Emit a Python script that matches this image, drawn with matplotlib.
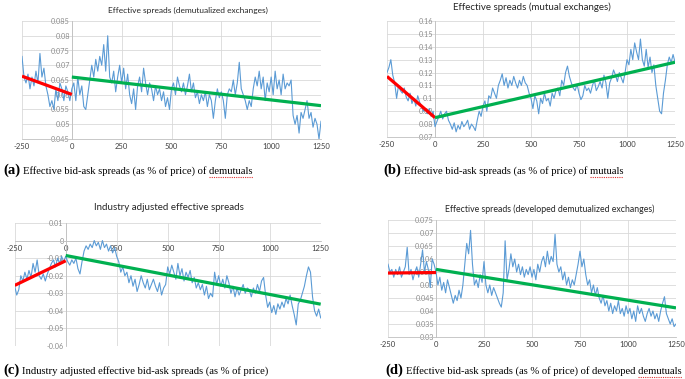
import matplotlib
matplotlib.use("Agg")
import matplotlib.pyplot as plt
import numpy as np
from matplotlib.lines import Line2D

W, H = 685, 379

# ---------------- data ----------------
event_days = np.arange(-250, 1251, 10)
x_ticks = [-250, 0, 250, 500, 750, 1000, 1250]
x_tick_labels = ["-250", "0", "250", "500", "750", "1000", "1250"]
fit_pre_days = [-250, 0]
fit_post_days = [0, 1250]

spread_demut = [
    0.073, 0.066, 0.064, 0.067, 0.062, 0.066, 0.063, 0.068, 0.064, 0.074,
    0.066, 0.069, 0.063, 0.060, 0.056, 0.058, 0.055, 0.062, 0.058, 0.064,
    0.062, 0.058, 0.063, 0.061, 0.058, 0.062, 0.064, 0.058, 0.066, 0.060,
    0.063, 0.056, 0.055, 0.060, 0.065, 0.070, 0.066, 0.072, 0.068, 0.073,
    0.070, 0.077, 0.068, 0.080, 0.066, 0.064, 0.068, 0.061, 0.066, 0.070,
    0.064, 0.069, 0.062, 0.067, 0.060, 0.057, 0.062, 0.055, 0.063, 0.066,
    0.061, 0.069, 0.064, 0.060, 0.064, 0.062, 0.058, 0.063, 0.060, 0.062,
    0.058, 0.061, 0.056, 0.059, 0.055, 0.062, 0.064, 0.060, 0.066, 0.063,
    0.061, 0.064, 0.060, 0.063, 0.067, 0.061, 0.064, 0.059, 0.061, 0.057,
    0.060, 0.058, 0.061, 0.056, 0.060, 0.058, 0.052, 0.058, 0.062, 0.059,
    0.061, 0.058, 0.052, 0.060, 0.062, 0.061, 0.065, 0.060, 0.064, 0.071,
    0.062, 0.060, 0.058, 0.055, 0.058, 0.056, 0.062, 0.066, 0.063, 0.068,
    0.062, 0.066, 0.058, 0.064, 0.061, 0.066, 0.060, 0.068, 0.062, 0.065,
    0.060, 0.067, 0.062, 0.064, 0.063, 0.065, 0.053, 0.050, 0.053, 0.047,
    0.054, 0.052, 0.055, 0.058, 0.052, 0.054, 0.049, 0.052, 0.050, 0.045,
    0.051,
]
pre_fit_demut = [0.0663, 0.0601]
post_fit_demut = [0.0660, 0.0563]

spread_mutual = [
    0.120, 0.124, 0.130, 0.118, 0.112, 0.100, 0.110, 0.106, 0.104, 0.108,
    0.101, 0.098, 0.104, 0.096, 0.100, 0.094, 0.102, 0.097, 0.094, 0.090,
    0.092, 0.088, 0.092, 0.086, 0.090, 0.078, 0.082, 0.086, 0.090, 0.084,
    0.088, 0.090, 0.083, 0.080, 0.076, 0.081, 0.074, 0.079, 0.076, 0.082,
    0.078, 0.080, 0.083, 0.076, 0.080, 0.078, 0.075, 0.083, 0.090, 0.086,
    0.094, 0.098, 0.090, 0.102, 0.100, 0.108, 0.104, 0.100, 0.110, 0.114,
    0.119, 0.110, 0.116, 0.108, 0.114, 0.110, 0.117, 0.112, 0.108, 0.114,
    0.110, 0.117, 0.112, 0.110, 0.104, 0.100, 0.092, 0.102, 0.098, 0.088,
    0.100, 0.096, 0.104, 0.098, 0.100, 0.094, 0.104, 0.100, 0.106, 0.108,
    0.102, 0.114, 0.110, 0.120, 0.125, 0.117, 0.112, 0.108, 0.106, 0.111,
    0.104, 0.099, 0.102, 0.110, 0.106, 0.108, 0.104, 0.110, 0.114, 0.106,
    0.109, 0.113, 0.108, 0.118, 0.112, 0.100, 0.112, 0.116, 0.122, 0.118,
    0.113, 0.120, 0.116, 0.112, 0.120, 0.130, 0.126, 0.138, 0.130, 0.143,
    0.136, 0.130, 0.146, 0.130, 0.125, 0.138, 0.124, 0.132, 0.120, 0.126,
    0.110, 0.100, 0.090, 0.088, 0.104, 0.114, 0.126, 0.132, 0.128, 0.134,
    0.128,
]
pre_fit_mutual = [0.117, 0.085]
post_fit_mutual = [0.085, 0.128]

spread_industry_adj = [
    -0.026, -0.031, -0.028, -0.020, -0.023, -0.018, -0.022, -0.017, -0.021, -0.013,
    -0.018, -0.011, -0.020, -0.022, -0.019, -0.023, -0.019, -0.016, -0.013, -0.011,
    -0.015, -0.010, -0.013, -0.009, -0.012, -0.009, -0.012, -0.014, -0.011, -0.013,
    -0.010, -0.016, -0.019, -0.012, -0.006, -0.003, -0.005, -0.002, -0.004, 0.000,
    -0.003, -0.001, -0.005, 0.000, -0.004, -0.002, -0.006, -0.003, -0.007, -0.004,
    -0.009, -0.012, -0.018, -0.015, -0.020, -0.018, -0.024, -0.020, -0.026, -0.022,
    -0.029, -0.025, -0.020, -0.024, -0.027, -0.022, -0.028, -0.025, -0.022, -0.026,
    -0.029, -0.024, -0.031, -0.027, -0.025, -0.015, -0.019, -0.014, -0.018, -0.022,
    -0.013, -0.020, -0.016, -0.023, -0.018, -0.021, -0.017, -0.024, -0.021, -0.027,
    -0.024, -0.028, -0.025, -0.031, -0.026, -0.033, -0.030, -0.032, -0.018, -0.025,
    -0.020, -0.026, -0.022, -0.027, -0.020, -0.024, -0.030, -0.026, -0.032, -0.027,
    -0.031, -0.028, -0.025, -0.030, -0.027, -0.028, -0.032, -0.027, -0.030, -0.025,
    -0.029, -0.023, -0.021, -0.031, -0.038, -0.035, -0.041, -0.037, -0.042, -0.036,
    -0.039, -0.035, -0.038, -0.033, -0.036, -0.031, -0.037, -0.042, -0.048, -0.036,
    -0.034, -0.030, -0.026, -0.020, -0.015, -0.018, -0.032, -0.040, -0.043, -0.039,
    -0.044,
]
pre_fit_industry_adj = [-0.0255, -0.0115]
post_fit_industry_adj = [-0.0085, -0.0362]

spread_developed = [
    0.058, 0.055, 0.056, 0.053, 0.056, 0.054, 0.057, 0.053, 0.055, 0.057,
    0.0645, 0.054, 0.056, 0.052, 0.055, 0.057, 0.053, 0.058, 0.0635, 0.055,
    0.059, 0.056, 0.049, 0.060, 0.058, 0.055, 0.050, 0.053, 0.048, 0.051,
    0.047, 0.052, 0.049, 0.046, 0.043, 0.046, 0.044, 0.048, 0.045, 0.050,
    0.058, 0.066, 0.062, 0.071, 0.058, 0.050, 0.052, 0.049, 0.054, 0.051,
    0.059, 0.050, 0.047, 0.050, 0.046, 0.049, 0.047, 0.045, 0.043, 0.0415,
    0.047, 0.067, 0.052, 0.056, 0.062, 0.057, 0.060, 0.055, 0.058, 0.054,
    0.057, 0.053, 0.056, 0.054, 0.057, 0.053, 0.056, 0.052, 0.058, 0.055,
    0.059, 0.061, 0.057, 0.063, 0.058, 0.061, 0.059, 0.0695, 0.058, 0.055,
    0.057, 0.052, 0.055, 0.050, 0.053, 0.049, 0.052, 0.050, 0.054, 0.058,
    0.063, 0.057, 0.060, 0.054, 0.050, 0.052, 0.047, 0.050, 0.046, 0.049,
    0.045, 0.043, 0.046, 0.042, 0.044, 0.040, 0.043, 0.039, 0.042, 0.040,
    0.044, 0.039, 0.041, 0.038, 0.042, 0.039, 0.041, 0.037, 0.040, 0.036,
    0.042, 0.039, 0.041, 0.038, 0.036, 0.039, 0.041, 0.038, 0.040, 0.037,
    0.039, 0.036, 0.040, 0.043, 0.0455, 0.039, 0.037, 0.035, 0.037, 0.034,
    0.035,
]
pre_fit_developed = [0.0546, 0.0548]
post_fit_developed = [0.0560, 0.0412]

yticks_demut = [0.045, 0.05, 0.055, 0.06, 0.065, 0.07, 0.075, 0.08, 0.085]
yticks_mutual = [0.07, 0.08, 0.09, 0.1, 0.11, 0.12, 0.13, 0.14, 0.15, 0.16]
yticks_industry_adj = [-0.06, -0.05, -0.04, -0.03, -0.02, -0.01, 0, 0.01]
yticks_developed = [0.03, 0.035, 0.04, 0.045, 0.05, 0.055, 0.06, 0.065, 0.07, 0.075]

titles = [
    "Effective spreads (demutualized exchanges)",
    "Effective spreads (mutual exchanges)",
    "Industry adjusted effective spreads",
    "Effective spreads (developed demutualized exchanges)",
]
caption_labels = ["(a)", "(b)", "(c)", "(d)"]
caption_texts = [
    "Effective bid-ask spreads (as % of price) of demutuals",
    "Effective bid-ask spreads (as % of price) of mutuals",
    "Industry adjusted effective bid-ask spreads (as % of price)",
    "Effective bid-ask spreads (as % of price) of developed demutuals",
]
caption_underlined = ["demutuals", "mutuals", None, "demutuals"]

# ---------------- drawing ----------------
fig = plt.figure(figsize=(W / 100, H / 100), dpi=100)
fig.patch.set_facecolor("white")

TITLE_FONT = ["Lato", "DejaVu Sans"]
SERIF = ["Liberation Serif", "DejaVu Serif"]


def px_rect(l, t, r, b):
    return [l / W, 1 - b / H, (r - l) / W, (b - t) / H]


def panel(rect, series, pre, post, yticks, title, title_c, title_size, xaxis_zero=False):
    ax = fig.add_axes(px_rect(*rect))
    ax.set_xlim(-250, 1250)
    ax.set_ylim(yticks[0], yticks[-1])
    ax.set_xticks(x_ticks)
    ax.set_xticklabels(x_tick_labels)
    ax.set_yticks(yticks)
    ax.set_yticklabels([f"{v:g}" for v in yticks])
    ax.grid(True, color="#D9D9D9", lw=0.6)
    ax.set_axisbelow(True)
    for s in ["top", "right"]:
        ax.spines[s].set_visible(False)
    ax.spines["left"].set_position(("data", 0))
    ax.spines["left"].set_color("#BFBFBF")
    ax.spines["left"].set_linewidth(0.6)
    ax.spines["bottom"].set_color("#BFBFBF")
    ax.spines["bottom"].set_linewidth(0.6)
    if xaxis_zero:
        ax.spines["bottom"].set_position(("data", 0))
    ax.tick_params(length=0)
    ax.tick_params(axis="y", labelsize=5.2, labelcolor="#8C8C8C", pad=1.5)
    ax.tick_params(axis="x", labelsize=5.5, labelcolor="#404040", pad=3)
    for lab in ax.get_xticklabels() + ax.get_yticklabels():
        lab.set_fontfamily(TITLE_FONT)
    ax.plot(event_days, series, color="#5B9BD5", lw=0.8, zorder=3)
    ax.plot(fit_pre_days, pre, color="#FF0000", lw=2.3, zorder=4, solid_capstyle="butt")
    ax.plot(fit_post_days, post, color="#00B050", lw=2.3, zorder=4, solid_capstyle="butt")
    fig.text(title_c[0] / W, 1 - title_c[1] / H, title, ha="center", va="center",
             fontsize=title_size, family=TITLE_FONT, color="#262626")
    return ax


panel((22, 21, 321, 139), spread_demut, pre_fit_demut, post_fit_demut,
      yticks_demut, titles[0], (188, 10), 6.0)
panel((387, 21, 675, 137), spread_mutual, pre_fit_mutual, post_fit_mutual,
      yticks_mutual, titles[1], (532, 7), 7.0)
panel((14.7, 223, 320.7, 346), spread_industry_adj, pre_fit_industry_adj, post_fit_industry_adj,
      yticks_industry_adj, titles[2], (168.5, 207), 7.0, xaxis_zero=True)
panel((388, 220, 676, 337), spread_developed, pre_fit_developed, post_fit_developed,
      yticks_developed, titles[3], (550, 209), 6.3)

renderer = fig.canvas.get_renderer()
CAP_SIZE = 7.7


def caption(x_px, y_px, label, text, underlined):
    t1 = fig.text(x_px / W, 1 - y_px / H, label, fontsize=10.5, fontweight="bold",
                  family=SERIF, va="baseline", color="black")
    bb = t1.get_window_extent(renderer)
    t2 = fig.text((bb.x1 + 3) / W, 1 - y_px / H, text, fontsize=CAP_SIZE,
                  family=SERIF, va="baseline", color="black")
    if underlined:
        bb2 = t2.get_window_extent(renderer)
        tw = fig.text(0, 0, underlined, fontsize=CAP_SIZE, family=SERIF)
        ww = tw.get_window_extent(renderer).width
        tw.remove()
        ybase = (1 - y_px / H) * H - 2.5
        fig.add_artist(Line2D([bb2.x1 - ww, bb2.x1], [ybase, ybase], transform=None,
                              color="#E03030", lw=0.8, ls=(0, (1, 1))))


caption(3, 174, caption_labels[0], caption_texts[0], caption_underlined[0])
caption(383, 174, caption_labels[1], caption_texts[1], caption_underlined[1])
caption(3, 374, caption_labels[2], caption_texts[2], caption_underlined[2])
caption(385, 374, caption_labels[3], caption_texts[3], caption_underlined[3])

fig.savefig("out.png", dpi=100, facecolor="white")
